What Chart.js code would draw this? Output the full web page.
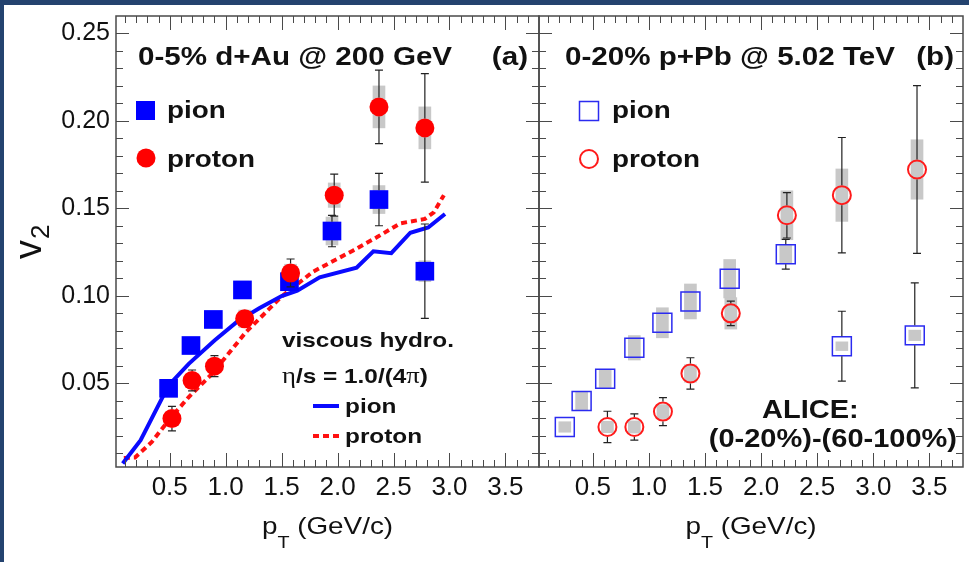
<!DOCTYPE html>
<html>
<head>
<meta charset="utf-8">
<title>v2 vs pT</title>
<script src="https://cdn.jsdelivr.net/npm/chart.js@4.4.1/dist/chart.umd.min.js"></script>
<style>
  html, body { margin: 0; padding: 0; background: #fff; }
  #page { position: relative; width: 969px; height: 562px; background: #fff; overflow: hidden; }
  .edge { position: absolute; background: #24436f; }
  canvas { position: absolute; top: 0; }
  #panelA { left: 0; }
  #panelB { left: 533px; }
</style>
</head>
<body>
<div id="page">
  <canvas id="panelA" width="545" height="562"></canvas>
  <canvas id="panelB" width="436" height="562"></canvas>
  <div class="edge" style="left:0;top:0;width:969px;height:5px"></div>
  <div class="edge" style="left:0;top:0;width:4px;height:562px"></div>
</div>
<script>
// axes (same for both panels)
const xMin = 0.02, xMax = 3.8;
const yMin = 0.002, yMax = 0.26;
const xTicks = [0.5, 1.0, 1.5, 2.0, 2.5, 3.0, 3.5];
const xTickLabels = ['0.5', '1.0', '1.5', '2.0', '2.5', '3.0', '3.5'];
const yTicks = [0.05, 0.10, 0.15, 0.20, 0.25];
const yTickLabels = ['0.05', '0.10', '0.15', '0.20', '0.25'];

// (a) 0-5% d+Au @ 200 GeV
const aPionPt   = [0.49, 0.69, 0.89, 1.15, 1.57, 1.95, 2.37, 2.78];
const aPionV2   = [0.047, 0.0715, 0.0864, 0.1033, 0.108, 0.137, 0.155, 0.114];
const aPionStat = [0.002, 0.002, 0.002, 0.003, 0.003, 0.009, 0.015, 0.027];
const aPionSys  = [0.003, 0.003, 0.003, 0.005, 0.004, 0.008, 0.008, 0.006];
const aProtPt   = [0.52, 0.70, 0.90, 1.17, 1.58, 1.97, 2.37, 2.78];
const aProtV2   = [0.0297, 0.0515, 0.0597, 0.0868, 0.113, 0.1575, 0.208, 0.196];
const aProtStat = [0.007, 0.006, 0.006, 0.004, 0.008, 0.012, 0.021, 0.031];
const aProtSys  = [0.003, 0.003, 0.003, 0.005, 0.005, 0.007, 0.012, 0.012];

// viscous hydro, eta/s = 1/(4pi)
const hydroPionPt = [0.08, 0.24, 0.49, 0.67, 0.90, 1.10, 1.30, 1.50, 1.64, 1.84, 2.17, 2.32, 2.48, 2.65, 2.81, 2.96];
const hydroPionV2 = [0.004, 0.0173, 0.0487, 0.061, 0.0744, 0.085, 0.0928, 0.0998, 0.1029, 0.1105, 0.116, 0.1254, 0.1243, 0.136, 0.139, 0.1467];
const hydroProtPt = [0.09, 0.19, 0.34, 0.49, 0.67, 0.88, 1.18, 1.50, 1.78, 2.14, 2.35, 2.56, 2.78, 2.86, 2.95];
const hydroProtV2 = [0.0071, 0.0074, 0.0163, 0.0287, 0.042, 0.0554, 0.0791, 0.0995, 0.1137, 0.1259, 0.1334, 0.1414, 0.1439, 0.1477, 0.1575];

// (b) 0-20% p+Pb @ 5.02 TeV (ALICE)
const bPionPt   = [0.25, 0.40, 0.61, 0.87, 1.12, 1.37, 1.72, 2.22, 2.72, 3.37];
const bPionV2   = [0.0249, 0.0397, 0.0525, 0.0702, 0.0845, 0.0967, 0.1097, 0.1237, 0.0711, 0.0773];
const bPionStat = [0.003, 0.002, 0.002, 0.002, 0.002, 0.003, 0.004, 0.0085, 0.020, 0.030];
const bPionSys  = [0.003, 0.005, 0.005, 0.007, 0.0086, 0.010, 0.011, 0.005, 0.0025, 0.003];
const bProtPt   = [0.63, 0.87, 1.125, 1.37, 1.73, 2.23, 2.72, 3.39];
const bProtV2   = [0.0249, 0.0249, 0.0337, 0.0555, 0.0899, 0.146, 0.1575, 0.1722];
const bProtStat = [0.009, 0.0075, 0.008, 0.009, 0.007, 0.013, 0.033, 0.048];
const bProtSys  = [0.0033, 0.0035, 0.004, 0.005, 0.009, 0.014, 0.015, 0.017];

const FONT = '"Liberation Sans", Arial, Helvetica, sans-serif';
const SERIF = '"Liberation Serif", "Times New Roman", serif';
const SX = 1.16;   // text in the reference is stretched a bit horizontally
const GREY = '#c8c8c8';

function pts(xs, ys) { return xs.map((x, i) => ({ x: x, y: ys[i] })); }
function band(xs, ys, es) { return xs.map((x, i) => ({ x: x, y: [ys[i] - es[i], ys[i] + es[i]] })); }

function drawText(ctx, str, x, y, size, bold, align, family) {
  ctx.save();
  ctx.font = (bold ? 'bold ' : '') + size + 'px ' + (family || FONT);
  ctx.fillStyle = '#111';
  ctx.textBaseline = 'alphabetic';
  ctx.textAlign = align || 'left';
  ctx.translate(x, y);
  ctx.scale(SX, 1);
  ctx.fillText(str, 0, 0);
  const w = ctx.measureText(str).width * SX;
  ctx.restore();
  return w;
}

function axisTitle(ctx, a) {
  ctx.save();
  ctx.font = '24px ' + FONT;
  const wp = ctx.measureText('p').width * SX;
  const wr = ctx.measureText(' (GeV/c)').width * SX;
  ctx.font = '17px ' + FONT;
  const wt = ctx.measureText('T').width * SX;
  ctx.restore();
  let x = (a.left + a.right) / 2 - (wp + wt + wr) / 2;
  x += drawText(ctx, 'p', x, 534, 24);
  x += drawText(ctx, 'T', x, 548, 17);
  drawText(ctx, ' (GeV/c)', x, 534, 24);
}

function scaleConfig(showY) {
  return {
    x: {
      type: 'linear', min: xMin, max: xMax, offset: false,
      grid: { display: false, drawTicks: false }, border: { display: false },
      afterBuildTicks: s => { s.ticks = xTicks.map(v => ({ value: v })); },
      afterFit: s => { s.height = 95; s.paddingLeft = 0; s.paddingRight = 0; },
      ticks: {
        color: '#111', padding: 5, maxRotation: 0, autoSkip: false,
        font: { family: FONT, size: 26 },
        callback: (v, i) => xTickLabels[i]
      }
    },
    y: {
      type: 'linear', min: yMin, max: yMax, display: showY, stacked: false,
      grid: { display: false, drawTicks: false }, border: { display: false },
      afterBuildTicks: s => { s.ticks = yTicks.map(v => ({ value: v })); },
      afterFit: s => { s.width = showY ? 116 : 0; s.paddingTop = 0; s.paddingBottom = 0; },
      ticks: {
        color: '#111', padding: 6,
        font: { family: FONT, size: 25 },
        callback: (v, i) => yTickLabels[i]
      }
    }
  };
}

// ROOT style frame: inward ticks on all four sides
const framePlugin = {
  id: 'rootFrame',
  afterDatasetsDraw(chart) {
    const { ctx, chartArea: a, scales: { x, y } } = chart;
    ctx.save();
    ctx.strokeStyle = '#4a4a4a';
    ctx.lineWidth = 1;
    ctx.beginPath();
    for (let i = 1; i < 38; i++) {
      const px = Math.round(x.getPixelForValue(i / 10)) + 0.5;
      const len = i % 5 === 0 ? 14 : 7;
      ctx.moveTo(px, a.bottom); ctx.lineTo(px, a.bottom - len);
      ctx.moveTo(px, a.top); ctx.lineTo(px, a.top + len);
    }
    for (let i = 1; i < 26; i++) {
      const py = Math.round(y.getPixelForValue(i / 100)) + 0.5;
      const len = i % 5 === 0 ? 13 : 7;
      ctx.moveTo(a.left, py); ctx.lineTo(a.left + len, py);
      ctx.moveTo(a.right, py); ctx.lineTo(a.right - len, py);
    }
    ctx.stroke();
    ctx.lineWidth = 1.5;
    ctx.strokeRect(a.left, a.top, a.right - a.left, a.bottom - a.top);
    ctx.restore();
  }
};

// statistical error bars, drawn outside the marker
const errPlugin = {
  id: 'errbars',
  afterDatasetsDraw(chart, args, opts) {
    const { ctx, chartArea: a } = chart;
    const y = chart.scales.y;
    ctx.save();
    ctx.beginPath(); ctx.rect(a.left, a.top, a.right - a.left, a.bottom - a.top); ctx.clip();
    ctx.strokeStyle = '#222';
    ctx.lineWidth = 1.2;
    opts.sets.forEach(s => {
      const meta = chart.getDatasetMeta(s.ds);
      const vals = chart.data.datasets[s.ds].data;
      meta.data.forEach((p, i) => {
        const v = vals[i].y, e = s.err[i];
        const top = y.getPixelForValue(v + e), bot = y.getPixelForValue(v - e);
        ctx.beginPath();
        if (top < p.y - s.half) {
          ctx.moveTo(p.x, p.y - s.half); ctx.lineTo(p.x, top);
          ctx.moveTo(p.x - 4, top); ctx.lineTo(p.x + 4, top);
        }
        if (bot > p.y + s.half) {
          ctx.moveTo(p.x, p.y + s.half); ctx.lineTo(p.x, bot);
          ctx.moveTo(p.x - 4, bot); ctx.lineTo(p.x + 4, bot);
        }
        ctx.stroke();
      });
    });
    ctx.restore();
  }
};

const textA = {
  id: 'textA',
  afterDraw(chart) {
    const ctx = chart.ctx;
    drawText(ctx, '0-5% d+Au @ 200 GeV', 138, 65, 25.5, true);
    drawText(ctx, '(a)', 528, 65, 25.5, true, 'right');
    // data legend
    ctx.fillStyle = '#0000ff';
    ctx.fillRect(136, 101, 19, 19);
    ctx.fillStyle = '#ff0000';
    ctx.beginPath(); ctx.arc(146, 158, 9.5, 0, 2 * Math.PI); ctx.fill();
    drawText(ctx, 'pion', 167, 118, 24, true);
    drawText(ctx, 'proton', 167, 167, 24, true);
    // hydro legend
    drawText(ctx, 'viscous hydro.', 282, 347, 21, true);
    let x = 282;
    x += drawText(ctx, 'η', x, 383, 23, false, 'left', SERIF);
    x += drawText(ctx, '/s = 1.0/(4', x, 383, 21, true);
    x += drawText(ctx, 'π', x, 383, 23, false, 'left', SERIF);
    drawText(ctx, ')', x, 383, 21, true);
    ctx.save();
    ctx.lineWidth = 4;
    ctx.strokeStyle = '#0a0aff';
    ctx.beginPath(); ctx.moveTo(313, 406); ctx.lineTo(339, 406); ctx.stroke();
    ctx.strokeStyle = '#ff1010';
    ctx.setLineDash([6, 4]);
    ctx.beginPath(); ctx.moveTo(313, 436); ctx.lineTo(339, 436); ctx.stroke();
    ctx.restore();
    drawText(ctx, 'pion', 345, 413, 21, true);
    drawText(ctx, 'proton', 345, 443, 21, true);
    axisTitle(ctx, chart.chartArea);
    // y title v_2
    ctx.save();
    ctx.fillStyle = '#111';
    ctx.translate(41, 259);
    ctx.rotate(-Math.PI / 2);
    ctx.font = '38px ' + FONT;
    ctx.fillText('v', 0, 0);
    const wv = ctx.measureText('v').width;
    ctx.font = '26px ' + FONT;
    ctx.fillText('2', wv + 1, 8);
    ctx.restore();
  }
};

const OX = 533; // left of panel (b) canvas on the page
const textB = {
  id: 'textB',
  afterDraw(chart) {
    const ctx = chart.ctx;
    drawText(ctx, '0-20% p+Pb @ 5.02 TeV', 565 - OX, 65, 25.5, true);
    drawText(ctx, '(b)', 954 - OX, 65, 25.5, true, 'right');
    ctx.save();
    ctx.lineWidth = 1.5;
    ctx.strokeStyle = '#2b2bf0';
    ctx.strokeRect(579.5 - OX, 101.5, 19, 19);
    ctx.lineWidth = 2;
    ctx.strokeStyle = '#ff1a1a';
    ctx.beginPath(); ctx.arc(589 - OX, 159, 9, 0, 2 * Math.PI); ctx.stroke();
    ctx.restore();
    drawText(ctx, 'pion', 612 - OX, 118, 24, true);
    drawText(ctx, 'proton', 612 - OX, 167, 24, true);
    drawText(ctx, 'ALICE:', 762 - OX, 418, 25, true);
    drawText(ctx, '(0-20%)-(60-100%)', 957 - OX, 447, 25, true, 'right');
    axisTitle(ctx, chart.chartArea);
  }
};

const common = {
  responsive: false,
  animation: false,
  devicePixelRatio: 1,
  events: [],
  plugins: { legend: { display: false }, tooltip: { enabled: false } }
};

// one grey box dataset per panel (pion + proton systematics)
new Chart(document.getElementById('panelA'), {
  type: 'scatter',
  data: {
    datasets: [
      { type: 'bar', data: band(aPionPt, aPionV2, aPionSys).concat(band(aProtPt, aProtV2, aProtSys)),
        backgroundColor: GREY, borderWidth: 0, barThickness: 12, order: 5 },
      { data: pts(hydroPionPt, hydroPionV2), showLine: true, borderColor: '#0a0aff', borderWidth: 4, pointRadius: 0, order: 3 },
      { data: pts(hydroProtPt, hydroProtV2), showLine: true, borderColor: '#ff1010', borderWidth: 4, borderDash: [6, 4], pointRadius: 0, order: 3 },
      { data: pts(aPionPt, aPionV2), pointStyle: 'rect', pointRadius: 13.2, backgroundColor: '#0000ff', borderWidth: 0, order: 1 },
      { data: pts(aProtPt, aProtV2), pointStyle: 'circle', pointRadius: 9.5, backgroundColor: '#ff0000', borderWidth: 0, order: 0 }
    ]
  },
  options: Object.assign({}, common, {
    layout: { autoPadding: false, padding: { left: 0, right: 6, top: 16, bottom: 0 } },
    scales: scaleConfig(true),
    plugins: Object.assign({}, common.plugins, {
      errbars: { sets: [{ ds: 3, err: aPionStat, half: 9.3 }, { ds: 4, err: aProtStat, half: 9.5 }] }
    })
  }),
  plugins: [framePlugin, errPlugin, textA]
});

new Chart(document.getElementById('panelB'), {
  type: 'scatter',
  data: {
    datasets: [
      { type: 'bar', data: band(bPionPt, bPionV2, bPionSys).concat(band(bProtPt, bProtV2, bProtSys)),
        backgroundColor: GREY, borderWidth: 0, barThickness: 12, order: 5 },
      { data: pts(bPionPt, bPionV2), pointStyle: 'rect', pointRadius: 13.4, backgroundColor: 'rgba(0,0,0,0)', borderColor: '#2b2bf0', borderWidth: 1.5, order: 1 },
      { data: pts(bProtPt, bProtV2), pointStyle: 'circle', pointRadius: 9, backgroundColor: 'rgba(0,0,0,0)', borderColor: '#ff1a1a', borderWidth: 2, order: 0 }
    ]
  },
  options: Object.assign({}, common, {
    layout: { autoPadding: false, padding: { left: 6, right: 6, top: 16, bottom: 0 } },
    scales: scaleConfig(false),
    plugins: Object.assign({}, common.plugins, {
      errbars: { sets: [{ ds: 1, err: bPionStat, half: 10 }, { ds: 2, err: bProtStat, half: 10 }] }
    })
  }),
  plugins: [framePlugin, errPlugin, textB]
});
</script>
</body>
</html>
